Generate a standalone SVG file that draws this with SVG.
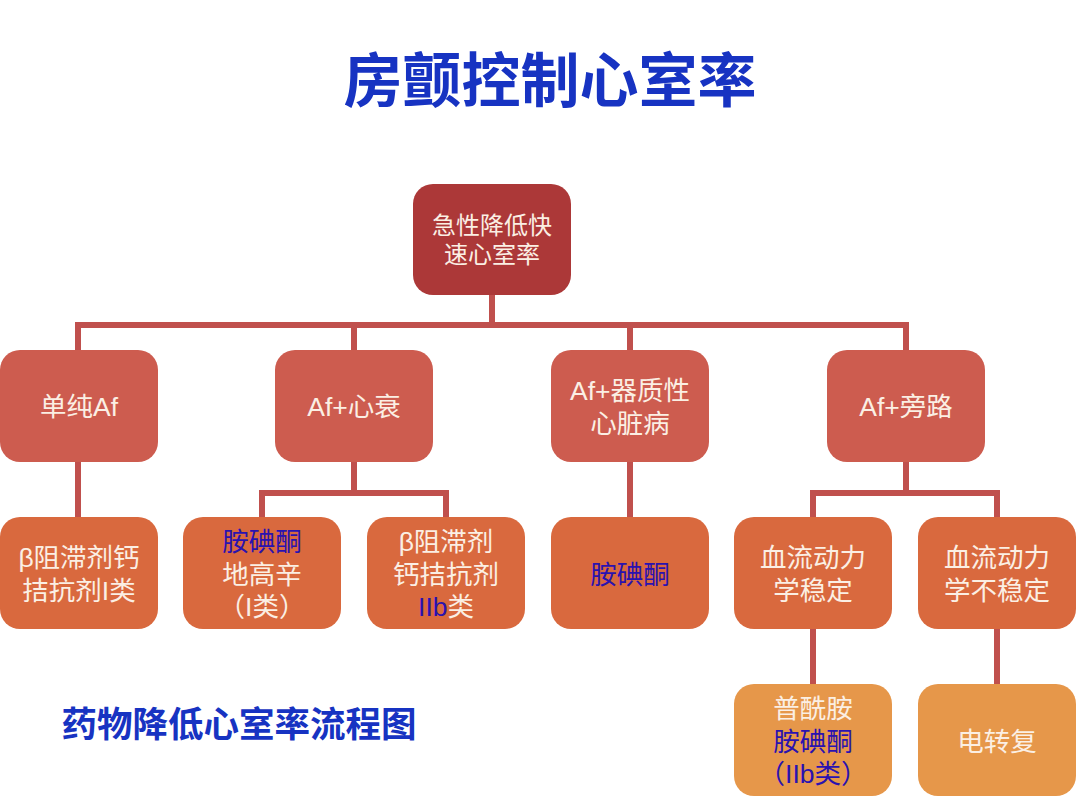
<svg xmlns="http://www.w3.org/2000/svg" width="1080" height="810" viewBox="0 0 1080 810">
<style>
.t{font-family:"Liberation Sans","Noto Sans CJK SC",sans-serif;font-size:26.5px;fill:#FBEFE4;text-anchor:middle}
.r{font-size:24px}
.b{fill:#2A12B0}
.c{fill:none;stroke:#C0504D;stroke-width:6}
.n1{fill:#AC3838}
.n2{fill:#CD5C4F}
.n3{fill:#D9693E}
.n4{fill:#E6974A}
.h{font-family:"Liberation Sans","Noto Sans CJK SC",sans-serif;font-weight:bold;fill:#1733C2;text-anchor:middle}
</style>
<rect width="1080" height="810" fill="#FFFFFF"/>
<text class="h" x="550" y="102" font-size="59">房颤控制心室率</text>
<text class="h" x="239" y="737" font-size="35.5">药物降低心室率流程图</text>
<g id="connectors">
<path class="c" d="M492 295V325M78 325H906M78 322V350M354 322V350M630 322V350M906 322V350"/>
<path class="c" d="M78 462V517"/>
<path class="c" d="M354 462V493M262 493H446M262 490V517M446 490V517"/>
<path class="c" d="M630 462V517"/>
<path class="c" d="M906 462V493M813 493H997M813 490V517M997 490V517"/>
<path class="c" d="M813 629V684M997 629V684"/>
</g>
<g id="n_root"><rect class="n1" x="413" y="184" width="158" height="111" rx="20"/>
<text class="t r" x="492" y="234">急性降低快</text><text class="t r" x="492" y="263">速心室率</text></g>
<g id="n_simple"><rect class="n2" x="0" y="350" width="158" height="112" rx="20"/>
<text class="t" x="79" y="416">单纯Af</text></g>
<g id="n_hf"><rect class="n2" x="275" y="350" width="158" height="112" rx="20"/>
<text class="t" x="354" y="416">Af+心衰</text></g>
<g id="n_organic"><rect class="n2" x="551" y="350" width="158" height="112" rx="20"/>
<text class="t" x="630" y="400">Af+器质性</text><text class="t" x="630" y="433">心脏病</text></g>
<g id="n_bypass"><rect class="n2" x="827" y="350" width="158" height="112" rx="20"/>
<text class="t" x="906" y="416">Af+旁路</text></g>
<g id="n_beta1"><rect class="n3" x="0" y="517" width="158" height="112" rx="20"/>
<text class="t" x="79" y="567">β阻滞剂钙</text><text class="t" x="79" y="600">拮抗剂I类</text></g>
<g id="n_amio1"><rect class="n3" x="183" y="517" width="158" height="112" rx="20"/>
<text class="t b" x="262" y="551">胺碘酮</text><text class="t" x="262" y="584">地高辛</text><text class="t" x="262" y="616">（I类）</text></g>
<g id="n_beta2"><rect class="n3" x="367" y="517" width="158" height="112" rx="20"/>
<text class="t" x="446" y="551">β阻滞剂</text><text class="t" x="446" y="584">钙拮抗剂</text><text class="t" x="446" y="616"><tspan class="b">IIb</tspan>类</text></g>
<g id="n_amio2"><rect class="n3" x="551" y="517" width="158" height="112" rx="20"/>
<text class="t b" x="630" y="584">胺碘酮</text></g>
<g id="n_stable"><rect class="n3" x="734" y="517" width="158" height="112" rx="20"/>
<text class="t" x="813" y="567">血流动力</text><text class="t" x="813" y="600">学稳定</text></g>
<g id="n_unstable"><rect class="n3" x="918" y="517" width="158" height="112" rx="20"/>
<text class="t" x="997" y="567">血流动力</text><text class="t" x="997" y="600">学不稳定</text></g>
<g id="n_drug"><rect class="n4" x="734" y="684" width="158" height="112" rx="20"/>
<text class="t" x="813" y="718">普酰胺</text><text class="t b" x="813" y="751">胺碘酮</text><text class="t b" x="813" y="783">（IIb类）</text></g>
<g id="n_shock"><rect class="n4" x="918" y="684" width="158" height="112" rx="20"/>
<text class="t" x="997" y="751">电转复</text></g>
</svg>
